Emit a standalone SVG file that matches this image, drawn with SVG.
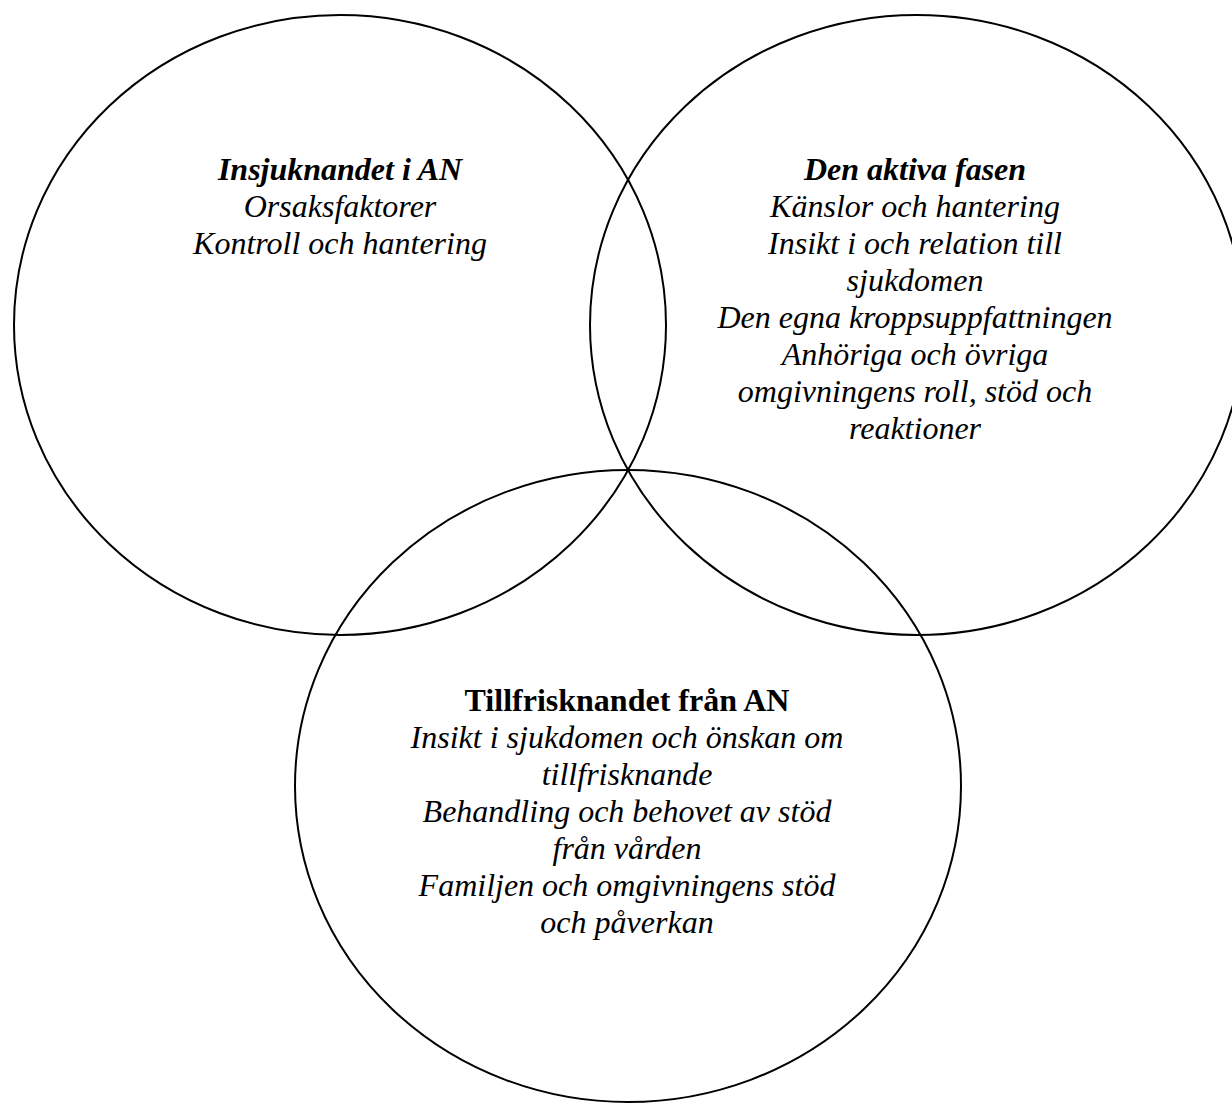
<svg xmlns="http://www.w3.org/2000/svg" width="1232" height="1104" viewBox="0 0 1232 1104">
<style>
.c{fill:none;stroke:#000;stroke-width:2}
.t{font-family:"Liberation Serif","Times New Roman",serif;font-size:32px;font-style:italic;text-anchor:middle;fill:#000}
.b{font-weight:bold}
.u{font-style:normal}
</style>
<rect width="1232" height="1104" fill="#fff"/>
<g id="left">
<ellipse class="c" cx="340" cy="325" rx="326" ry="310"/>
<text class="t" x="340"><tspan class="b" x="340" y="180">Insjuknandet i AN</tspan><tspan x="340" y="217">Orsaksfaktorer</tspan><tspan x="340" y="254">Kontroll och hantering</tspan></text>
</g>
<g id="right">
<ellipse class="c" cx="917" cy="325" rx="327" ry="310"/>
<text class="t" x="915"><tspan class="b" x="915" y="180">Den aktiva fasen</tspan><tspan x="915" y="217">Känslor och hantering</tspan><tspan x="915" y="254">Insikt i och relation till</tspan><tspan x="915" y="291">sjukdomen</tspan><tspan x="915" y="328">Den egna kroppsuppfattningen</tspan><tspan x="915" y="365">Anhöriga och övriga</tspan><tspan x="915" y="402">omgivningens roll, stöd och</tspan><tspan x="915" y="439">reaktioner</tspan></text>
</g>
<g id="bottom">
<ellipse class="c" cx="628" cy="786" rx="333" ry="316"/>
<text class="t" x="627"><tspan class="b u" x="627" y="711">Tillfrisknandet från AN</tspan><tspan x="627" y="748">Insikt i sjukdomen och önskan om</tspan><tspan x="627" y="785">tillfrisknande</tspan><tspan x="627" y="822">Behandling och behovet av stöd</tspan><tspan x="627" y="859">från vården</tspan><tspan x="627" y="896">Familjen och omgivningens stöd</tspan><tspan x="627" y="933">och påverkan</tspan></text>
</g>
<g id="connectors"></g>
</svg>
